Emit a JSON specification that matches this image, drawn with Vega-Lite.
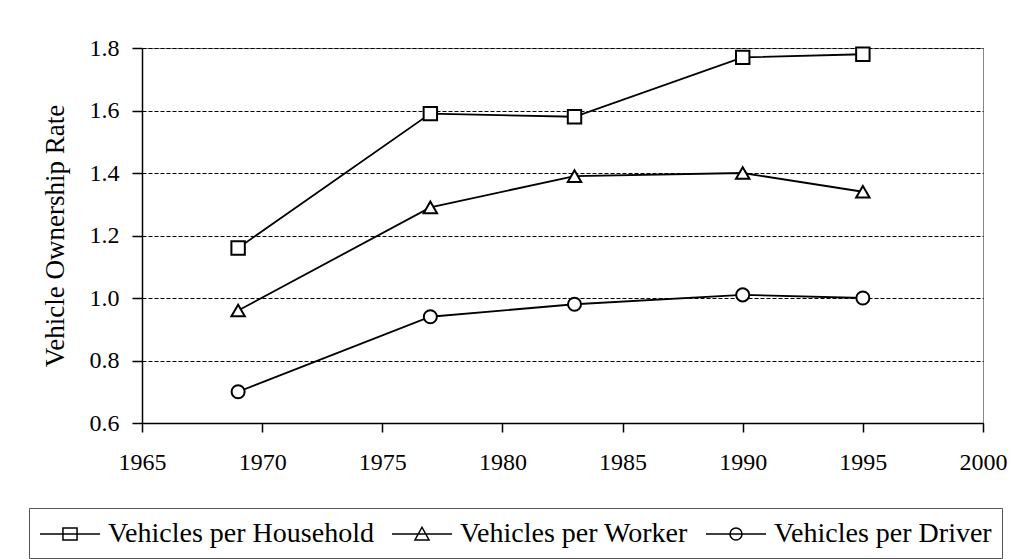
{
  "$schema": "https://vega.github.io/schema/vega-lite/v6.json",
  "width": 841,
  "height": 375,
  "autosize": {"type": "none"},
  "padding": {"left": 142, "top": 48, "right": 49, "bottom": 136},
  "background": "white",
  "config": {
    "font": "Liberation Serif",
    "view": {"stroke": "#888888", "strokeWidth": 1},
    "style": {
      "guide-label": {"font": "Liberation Serif", "fill": "black"},
      "guide-title": {"font": "Liberation Serif", "fill": "black"}
    }
  },
  "data": {
    "values": [
      {"year": 1969, "series": "Vehicles per Household", "rate": 1.16},
      {"year": 1977, "series": "Vehicles per Household", "rate": 1.59},
      {"year": 1983, "series": "Vehicles per Household", "rate": 1.58},
      {"year": 1990, "series": "Vehicles per Household", "rate": 1.77},
      {"year": 1995, "series": "Vehicles per Household", "rate": 1.78},
      {"year": 1969, "series": "Vehicles per Worker", "rate": 0.96},
      {"year": 1977, "series": "Vehicles per Worker", "rate": 1.29},
      {"year": 1983, "series": "Vehicles per Worker", "rate": 1.39},
      {"year": 1990, "series": "Vehicles per Worker", "rate": 1.40},
      {"year": 1995, "series": "Vehicles per Worker", "rate": 1.34},
      {"year": 1969, "series": "Vehicles per Driver", "rate": 0.70},
      {"year": 1977, "series": "Vehicles per Driver", "rate": 0.94},
      {"year": 1983, "series": "Vehicles per Driver", "rate": 0.98},
      {"year": 1990, "series": "Vehicles per Driver", "rate": 1.01},
      {"year": 1995, "series": "Vehicles per Driver", "rate": 1.00}
    ]
  },
  "encoding": {
    "x": {
      "field": "year",
      "type": "quantitative",
      "scale": {"domain": [1965, 2000], "nice": false, "zero": false},
      "axis": {
        "title": null,
        "values": [1965, 1970, 1975, 1980, 1985, 1990, 1995, 2000],
        "format": "d",
        "grid": false,
        "labelFont": "Liberation Serif",
        "labelFontSize": 24,
        "labelColor": "black",
        "labelPadding": 18,
        "labelFlush": false,
        "domainColor": "black",
        "domainWidth": 1.5,
        "tickColor": "black",
        "tickWidth": 1.5,
        "tickSize": 9
      }
    },
    "y": {
      "field": "rate",
      "type": "quantitative",
      "scale": {"domain": [0.6, 1.8], "nice": false, "zero": false},
      "axis": {
        "title": "Vehicle Ownership Rate",
        "titleFont": "Liberation Serif",
        "titleFontSize": 27,
        "titleFontWeight": "normal",
        "titleColor": "black",
        "titlePadding": 20,
        "values": [0.6, 0.8, 1.0, 1.2, 1.4, 1.6, 1.8],
        "format": ".1f",
        "grid": true,
        "gridColor": "black",
        "gridDash": [4, 2],
        "gridWidth": 1,
        "labelFont": "Liberation Serif",
        "labelFontSize": 24,
        "labelColor": "black",
        "labelPadding": 13,
        "labelFlush": false,
        "domainColor": "black",
        "domainWidth": 1.5,
        "tickColor": "black",
        "tickWidth": 1.5,
        "tickSize": 10
      }
    }
  },
  "layer": [
    {
      "mark": {"type": "line", "strokeWidth": 1.8},
      "encoding": {
        "stroke": {
          "field": "series",
          "type": "nominal",
          "scale": {
            "domain": ["Vehicles per Household", "Vehicles per Worker", "Vehicles per Driver"],
            "range": ["black", "black", "black"]
          },
          "legend": {
            "title": null,
            "orient": "none",
            "direction": "horizontal",
            "legendX": -113,
            "legendY": 460,
            "padding": 10,
            "strokeColor": "#555555",
            "labelFont": "Liberation Serif",
            "labelFontSize": 28,
            "labelColor": "black",
            "labelLimit": 500,
            "symbolSize": 900,
            "symbolOffset": 15,
            "labelOffset": 22,
            "columnPadding": 15,
            "symbolStrokeWidth": 1.5,
            "encode": {
              "symbols": {
                "update": {
                  "shape": {"signal": "datum.value == 'Vehicles per Household' ? 'M-2,0H2M-0.47,-0.4H0.47V0.4H-0.47Z' : datum.value == 'Vehicles per Worker' ? 'M-2,0H2M0,-0.45L0.47,0.4H-0.47Z' : 'M-2,0H2M0.4,0A0.4,0.4,0,1,1,-0.4,0A0.4,0.4,0,1,1,0.4,0'"},
                  "fill": {"value": "transparent"},
                  "stroke": {"value": "black"},
                  "strokeWidth": {"value": 1.5}
                }
              }
            }
          }
        }
      }
    },
    {
      "transform": [{"filter": "datum.series == 'Vehicles per Household'"}],
      "mark": {"type": "point", "shape": "square", "filled": false, "fill": "white", "fillOpacity": 1, "stroke": "black", "strokeWidth": 2, "size": 180, "opacity": 1}
    },
    {
      "transform": [{"filter": "datum.series == 'Vehicles per Worker'"}],
      "mark": {"type": "point", "shape": "triangle-up", "filled": false, "fill": "white", "fillOpacity": 1, "stroke": "black", "strokeWidth": 2, "size": 180, "opacity": 1}
    },
    {
      "transform": [{"filter": "datum.series == 'Vehicles per Driver'"}],
      "mark": {"type": "point", "shape": "circle", "filled": false, "fill": "white", "fillOpacity": 1, "stroke": "black", "strokeWidth": 2, "size": 170, "opacity": 1}
    }
  ]
}
